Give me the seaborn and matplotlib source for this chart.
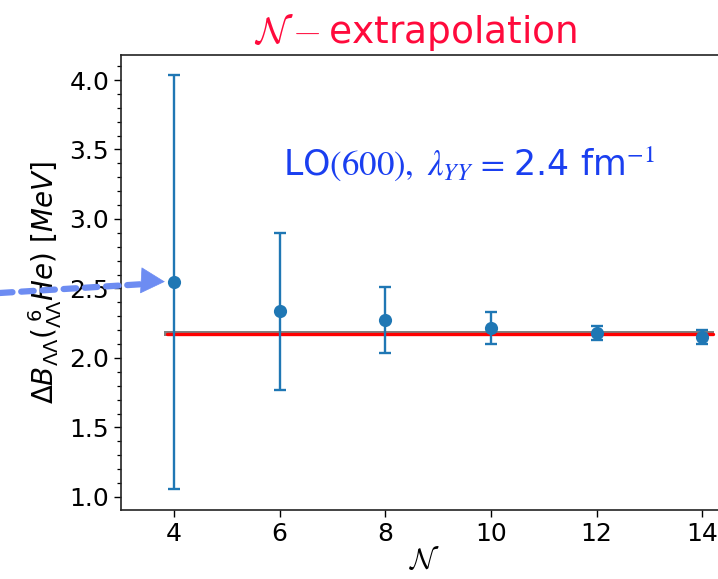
import numpy as np
import pandas as pd
import matplotlib
matplotlib.use("Agg")
import matplotlib.pyplot as plt
from matplotlib.ticker import AutoMinorLocator
import seaborn as sns

# Cluster-size truncation N and the corresponding Lambda-Lambda separation energy
N_values = [4, 6, 8, 10, 12, 14]
dB_values = [2.545, 2.335, 2.273, 2.214, 2.178, 2.153]
dB_errors = [1.49, 0.565, 0.237, 0.113, 0.052, 0.050]

# Extrapolated value (N -> infinity) with its uncertainty band
extrap_value = 2.173
extrap_error = 0.018
extrap_line_x = [3.88, 14.2]
extrap_band_x = [3.82, 14.22]

x_ticks = [4, 6, 8, 10, 12, 14]
y_ticks = [1.0, 1.5, 2.0, 2.5, 3.0, 3.5, 4.0]

df = pd.DataFrame({"N": N_values, "dB": dB_values, "err": dB_errors})
line_df = pd.DataFrame({"N": extrap_line_x, "dB": [extrap_value] * len(extrap_line_x)})

sns.set_theme(style="ticks")
plt.rcParams["font.family"] = ["DejaVu Sans"]
plt.rcParams["text.color"] = "black"
plt.rcParams["axes.labelcolor"] = "black"
plt.rcParams["xtick.color"] = "black"
plt.rcParams["ytick.color"] = "black"
plt.rcParams["xtick.labelsize"] = 18
plt.rcParams["ytick.labelsize"] = 18

fig = plt.figure(figsize=(7.18, 5.79), dpi=100)
ax = fig.add_axes([0.1685, 0.119, 0.8465, 0.786])

blue = "#1f77b4"

# uncertainty band and extrapolated line
ax.fill_between(extrap_band_x,
                [extrap_value - extrap_error] * 2,
                [extrap_value + extrap_error] * 2,
                color="#808080", lw=0, zorder=2)
sns.lineplot(data=line_df, x="N", y="dB", color="#ff0000", lw=2.4, ax=ax,
             zorder=3)

# data points with error bars
ax.errorbar(df["N"], df["dB"], yerr=df["err"], fmt="none", ecolor=blue,
            elinewidth=1.7, capsize=4, capthick=1.7, zorder=4)
sns.scatterplot(data=df, x="N", y="dB", color=blue, s=90, edgecolor=blue,
                linewidth=0, ax=ax, zorder=5)

ax.set_xlim(3.0, 14.5)
ax.set_ylim(0.905, 4.18)
ax.set_xticks(x_ticks)
ax.set_yticks(y_ticks)
ax.yaxis.set_minor_locator(AutoMinorLocator(5))
ax.tick_params(axis="both", which="major", length=5, width=1.0,
               direction="out")
ax.tick_params(axis="y", which="minor", length=3, width=0.9, left=True)
for side in ["left", "bottom", "top"]:
    ax.spines[side].set_color("#222222")
    ax.spines[side].set_linewidth(1.2)
ax.spines["right"].set_visible(False)

ax.set_xlabel(r"$\mathcal{N}$", fontsize=21, math_fontfamily="cm", labelpad=1)
ax.set_ylabel(r"$\Delta B_{\Lambda\Lambda}({}^{\ 6}_{\Lambda\Lambda}He)\ [MeV]$",
              fontsize=20, labelpad=4)

ax.set_title(r"$\mathcal{N}-$extrapolation", fontsize=27, color="#ff0a3c",
             fontfamily="DejaVu Sans", math_fontfamily="cm",
             x=0.484, pad=9)

ax.text(0.266, 0.736,
        r"LO$\mathrm{(600)},\ \lambda_{YY}\,=\,$2.4 fm$^{-1}$",
        transform=ax.transAxes, fontsize=25, color="#1a3ff0",
        fontfamily="DejaVu Sans", math_fontfamily="stix",
        va="baseline", ha="left")

# dashed arrow pointing at the N = 4 result: dashed shaft plus solid head
arrow_color = "#6d8cf2"
ax.annotate("", xy=(N_values[0], dB_values[0]), xycoords="data",
            xytext=(0.0, 0.494), textcoords="figure fraction",
            arrowprops=dict(arrowstyle="-", lw=4.5, ls=(0, (2, 1.4)),
                            color=arrow_color, shrinkA=0, shrinkB=20),
            annotation_clip=False, zorder=6)
ax.annotate("", xy=(N_values[0], dB_values[0]), xycoords="data",
            xytext=(-23, 1.3), textcoords="offset points",
            arrowprops=dict(arrowstyle="-|>,head_length=1.1,head_width=0.6",
                            mutation_scale=15, lw=0.5, color=arrow_color,
                            shrinkA=0, shrinkB=6.5),
            annotation_clip=False, zorder=6)

fig.savefig("out.png", dpi=100)
